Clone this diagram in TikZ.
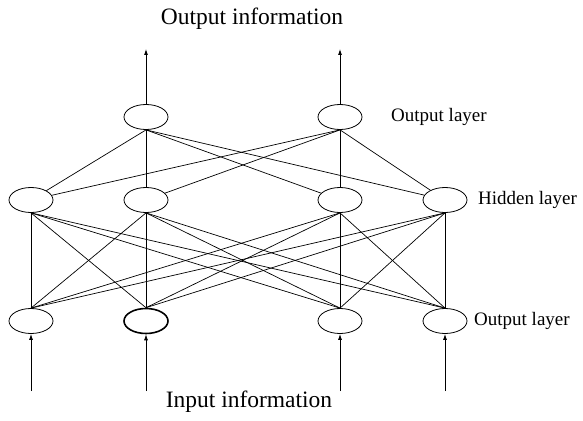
\documentclass[tikz,border=0pt]{standalone}
\usepackage{fontspec}
\setmainfont{Liberation Serif}
\usetikzlibrary{arrows.meta,shapes.geometric}

\begin{document}
\begin{tikzpicture}[x=1pt,y=-1pt,
  neuron/.style={draw,ellipse,minimum width=44pt,minimum height=25pt,inner sep=0pt,line width=0.8pt},
  link/.style={line width=0.7pt},
  flow/.style={line width=0.8pt,-{Latex[length=6pt,width=4pt]}},
  layername/.style={anchor=west,inner sep=0pt,font=\fontsize{19}{22}\selectfont},
  infoname/.style={inner sep=0pt,font=\fontsize{23.5}{27}\selectfont}]
\useasboundingbox (0,0) rectangle (583,420);

\node [neuron] (out1) at (146,117) {};
\node [neuron] (out2) at (340,117) {};

\node [neuron] (hid1) at (31,200) {};
\node [neuron] (hid2) at (146,200) {};
\node [neuron] (hid3) at (340,200) {};
\node [neuron] (hid4) at (445,200) {};

\node [neuron] (in1) at (31,321) {};
\node [neuron,line width=1.6pt] (in2) at (146,321) {};
\node [neuron] (in3) at (340,321) {};
\node [neuron] (in4) at (445,321) {};

\foreach \o in {1,2}
  \foreach \h in {1,2,3,4}
    \draw [link] (out\o.south) -- (hid\h);
\foreach \h in {1,2,3,4}
  \foreach \i in {1,2,3,4}
    \draw [link] (hid\h.south) -- (in\i.north);

\coordinate (top1) at (146,49);
\coordinate (top2) at (340,49);
\draw [flow] (out1.north) -- (top1);
\draw [flow] (out2.north) -- (top2);

\coordinate (bot1) at (31,391);
\coordinate (bot2) at (146,391);
\coordinate (bot3) at (340,391);
\coordinate (bot4) at (445,391);
\foreach \i in {1,2,3,4}
  \draw [flow] (bot\i) -- (in\i.south);

\node [infoname] (outinfo) at (252,19) {Output information};
\node [infoname] (ininfo) at (249,402) {Input information};

\node [layername] (outlayer) at (391,117) {Output layer};
\node [layername] (hidlayer) at (478,200) {Hidden layer};
\node [layername] (inlayer) at (474,321) {Output layer};
\end{tikzpicture}
\end{document}
